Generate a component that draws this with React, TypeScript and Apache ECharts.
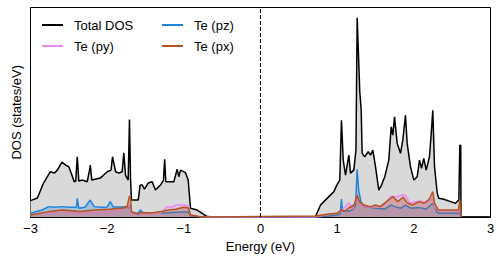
import React, { useEffect, useRef } from "react";
import * as echarts from "echarts";

// Energy ticks (eV)
const energyTicks = [-3, -2, -1, 0, 1, 2, 3];

// Total DOS: [energy (eV), DOS (states/eV)]
const totalDOS: [number, number][] = [
  [-3.0, 0.82], [-2.91, 0.95], [-2.83, 1.7], [-2.78, 2.02], [-2.74, 2.27], [-2.69, 2.2],
  [-2.65, 2.35], [-2.59, 2.75], [-2.54, 2.6], [-2.5, 2.52], [-2.46, 2.1], [-2.43, 1.77],
  [-2.41, 1.8], [-2.39, 3.02], [-2.37, 1.8], [-2.32, 1.85], [-2.26, 1.77], [-2.23, 2.35],
  [-2.22, 2.6], [-2.2, 1.85], [-2.09, 1.95], [-2.0, 2.27], [-1.95, 2.35], [-1.93, 3.02],
  [-1.89, 2.27], [-1.848, 2.2], [-1.804, 2.27], [-1.783, 3.22], [-1.761, 2.1], [-1.726, 1.85],
  [-1.709, 4.89], [-1.695, 1.9], [-1.683, 0.85], [-1.595, 0.85], [-1.57, 1.6], [-1.543, 1.6],
  [-1.513, 1.4], [-1.465, 1.7], [-1.413, 1.77], [-1.37, 1.35], [-1.304, 1.6], [-1.265, 1.85],
  [-1.25, 2.89], [-1.235, 1.77], [-1.131, 1.77], [-1.087, 2.39], [-1.066, 2.02], [-1.043, 2.35],
  [-0.978, 2.22], [-0.943, 1.85], [-0.913, 0.44], [-0.826, 0.35], [-0.695, 0.02], [-0.6, 0],
  [0.6, 0], [0.717, 0.02], [0.783, 0.6], [0.891, 1.02], [0.956, 1.27], [1.008, 1.69],
  [1.034, 1.85], [1.056, 4.85], [1.079, 2.85], [1.109, 2.1], [1.152, 3.1], [1.174, 2.2],
  [1.217, 2.35], [1.245, 3.35], [1.261, 9.98], [1.295, 6.27], [1.313, 5.4], [1.326, 3.19],
  [1.36, 3.02], [1.405, 3.27], [1.435, 3.1], [1.465, 3.35], [1.5, 2.52], [1.543, 1.35],
  [1.578, 1.6], [1.621, 2.02], [1.673, 2.85], [1.705, 4.52], [1.726, 4.1], [1.748, 5.02],
  [1.783, 3.69], [1.826, 3.19], [1.856, 3.85], [1.891, 5.1], [1.913, 3.69], [1.956, 2.52],
  [2.0, 1.85], [2.044, 2.02], [2.074, 2.85], [2.1, 2.44], [2.13, 2.94], [2.161, 2.35],
  [2.204, 3.02], [2.23, 4.35], [2.247, 5.35], [2.27, 2.52], [2.305, 1.19], [2.325, 0.94],
  [2.391, 0.89], [2.478, 0.77], [2.543, 0.69], [2.587, 0.85], [2.6, 3.6], [2.612, 3.6],
  [2.615, 0], [3.0, 0],
];

// Te (pz)
const tePz: [number, number][] = [
  [-3.0, 0.19], [-2.85, 0.35], [-2.76, 0.52], [-2.69, 0.49], [-2.58, 0.52], [-2.5, 0.49],
  [-2.4, 0.49], [-2.39, 0.94], [-2.37, 0.44], [-2.29, 0.49], [-2.22, 0.85], [-2.17, 0.52],
  [-2.08, 0.49], [-2.0, 0.5], [-1.96, 0.77], [-1.92, 0.5], [-1.8, 0.5], [-1.76, 0.52],
  [-1.72, 0.45], [-1.7, 0.6], [-1.683, 0.19], [-1.6, 0.19], [-1.565, 0.35], [-1.53, 0.19],
  [-1.3, 0.19], [-1.05, 0.25], [-0.94, 0.25], [-0.913, 0.05], [-0.8, 0.01], [-0.7, 0],
  [0.72, 0], [0.9, 0.05], [1.0, 0.1], [1.04, 0.15], [1.056, 0.9], [1.07, 0.3],
  [1.15, 0.3], [1.2, 0.35], [1.24, 0.6], [1.261, 2.39], [1.28, 1.35], [1.31, 0.77],
  [1.35, 0.52], [1.43, 0.49], [1.5, 0.44], [1.62, 0.4], [1.7, 0.6], [1.75, 0.52],
  [1.83, 0.44], [1.89, 0.6], [1.96, 0.44], [2.07, 0.47], [2.16, 0.4], [2.247, 0.69],
  [2.3, 0.25], [2.33, 0.19], [2.6, 0.19], [2.615, 0],
];

// Te (py)
const tePy: [number, number][] = [
  [-3.0, 0.1], [-2.8, 0.2], [-2.64, 0.25], [-2.6, 0.38], [-2.55, 0.25], [-2.5, 0.22],
  [-2.3, 0.2], [-2.1, 0.22], [-1.9, 0.3], [-1.76, 0.45], [-1.71, 0.55], [-1.683, 0.15],
  [-1.5, 0.15], [-1.3, 0.2], [-1.22, 0.52], [-1.15, 0.5], [-1.1, 0.6], [-1.0, 0.6],
  [-0.94, 0.55], [-0.913, 0.1], [-0.8, 0.02], [-0.7, 0],
  [0.72, 0], [0.9, 0.15], [1.0, 0.2], [1.05, 0.3], [1.152, 0.72], [1.2, 0.4],
  [1.261, 1.0], [1.3, 0.6], [1.4, 0.5], [1.5, 0.5], [1.6, 0.55], [1.7, 1.05],
  [1.75, 1.0], [1.85, 1.1], [1.89, 1.1], [1.95, 0.7], [2.0, 0.75], [2.09, 0.8],
  [2.16, 0.7], [2.247, 0.95], [2.27, 0.5], [2.32, 0.3], [2.6, 0.3], [2.615, 0],
];

// Te (px)
const tePx: [number, number][] = [
  [-3.0, 0.1], [-2.76, 0.27], [-2.58, 0.35], [-2.35, 0.27], [-2.17, 0.35], [-1.97, 0.39],
  [-1.8, 0.45], [-1.74, 0.5], [-1.71, 1.05], [-1.695, 0.93], [-1.683, 0.27], [-1.6, 0.15],
  [-1.56, 0.22], [-1.43, 0.2], [-1.3, 0.27], [-1.2, 0.35], [-1.11, 0.39], [-1.0, 0.49],
  [-0.94, 0.45], [-0.913, 0.1], [-0.8, 0.02], [-0.7, 0],
  [0.72, 0.05], [0.89, 0.15], [1.0, 0.19], [1.056, 0.35], [1.1, 0.3], [1.15, 0.45],
  [1.22, 0.6], [1.261, 1.1], [1.29, 0.77], [1.35, 0.6], [1.43, 0.52], [1.5, 0.6],
  [1.56, 0.52], [1.7, 0.94], [1.726, 1.02], [1.79, 0.77], [1.86, 0.99], [1.91, 0.72],
  [1.98, 0.6], [2.07, 0.77], [2.13, 0.69], [2.2, 0.89], [2.247, 1.27], [2.27, 0.69],
  [2.32, 0.35], [2.58, 0.35], [2.6, 0.82], [2.615, 0],
];

const FONT = "Liberation Sans, Arial, sans-serif";

export default function App() {
  const ref = useRef<HTMLDivElement>(null);
  useEffect(() => {
    if (!ref.current) return;
    const chart = echarts.init(ref.current, undefined, { renderer: "svg" });
    const lineSeries = (name: string, data: [number, number][], color: string, fill: string, z: number) => ({
      name,
      type: "line",
      data,
      symbol: "none",
      color,
      z,
      lineStyle: { color, width: 1.5 },
      areaStyle: { color: fill, opacity: 1 },
    });
    const legendText = { fontSize: 13, color: "#000", fontFamily: FONT, padding: [0, 0, 0, 6], lineHeight: 14 };
    chart.setOption({
      animation: false,
      textStyle: { fontFamily: FONT },
      grid: {
        left: 30.5,
        right: 12.5,
        top: 7.5,
        bottom: 45,
        show: true,
        borderColor: "#000",
        borderWidth: 1,
        backgroundColor: "transparent",
      },
      legend: [
        {
          data: ["Total DOS", "Te (py)"],
          orient: "vertical",
          left: 42,
          top: 18,
          padding: 0,
          itemGap: 7,
          icon: "rect",
          itemWidth: 21,
          itemHeight: 2,
          textStyle: legendText,
        },
        {
          data: ["Te (pz)", "Te (px)"],
          orient: "vertical",
          left: 162,
          top: 18,
          padding: 0,
          itemGap: 7,
          icon: "rect",
          itemWidth: 21,
          itemHeight: 2,
          textStyle: legendText,
        },
      ],
      xAxis: {
        type: "value",
        min: -3,
        max: 3,
        interval: 1,
        name: "Energy (eV)",
        nameLocation: "middle",
        nameGap: 23,
        nameTextStyle: { fontSize: 13, color: "#000", fontFamily: FONT },
        axisLine: { show: true, onZero: false, lineStyle: { color: "#000", width: 1 } },
        axisTick: { show: true, inside: true, length: 4, lineStyle: { color: "#000" } },
        axisLabel: {
          fontSize: 13,
          color: "#000",
          fontFamily: FONT,
          margin: 5,
          showMaxLabel: true,
          showMinLabel: true,
          formatter: (v: number) => (energyTicks.includes(v) ? (v < 0 ? "\u2212" + Math.abs(v) : String(v)) : ""),
        },
        splitLine: { show: false },
      },
      yAxis: {
        type: "value",
        min: 0,
        max: 10.5,
        name: "DOS (states/eV)",
        nameLocation: "middle",
        nameGap: 8,
        nameTextStyle: { fontSize: 13, color: "#000", fontFamily: FONT },
        axisLine: { show: true, onZero: false, lineStyle: { color: "#000", width: 1 } },
        axisTick: { show: false },
        axisLabel: { show: false },
        splitLine: { show: false },
      },
      series: [
        {
          ...lineSeries("Total DOS", totalDOS, "#000000", "#d9d9d9", 2),
          markLine: {
            silent: true,
            symbol: "none",
            label: { show: false },
            lineStyle: { color: "#000", width: 1, type: [4, 2] },
            data: [{ xAxis: 0 }],
          },
        },
        lineSeries("Te (pz)", tePz, "#1f83e0", "rgba(31,131,224,0.28)", 3),
        lineSeries("Te (py)", tePy, "#ee88ee", "rgba(238,136,238,0.28)", 3),
        lineSeries("Te (px)", tePx, "#b5541c", "rgba(181,84,28,0.28)", 4),
      ],
    });
    return () => chart.dispose();
  }, []);
  return <div ref={ref} style={{ position: "absolute", left: 0, top: 0, width: 503, height: 262 }} />;
}
